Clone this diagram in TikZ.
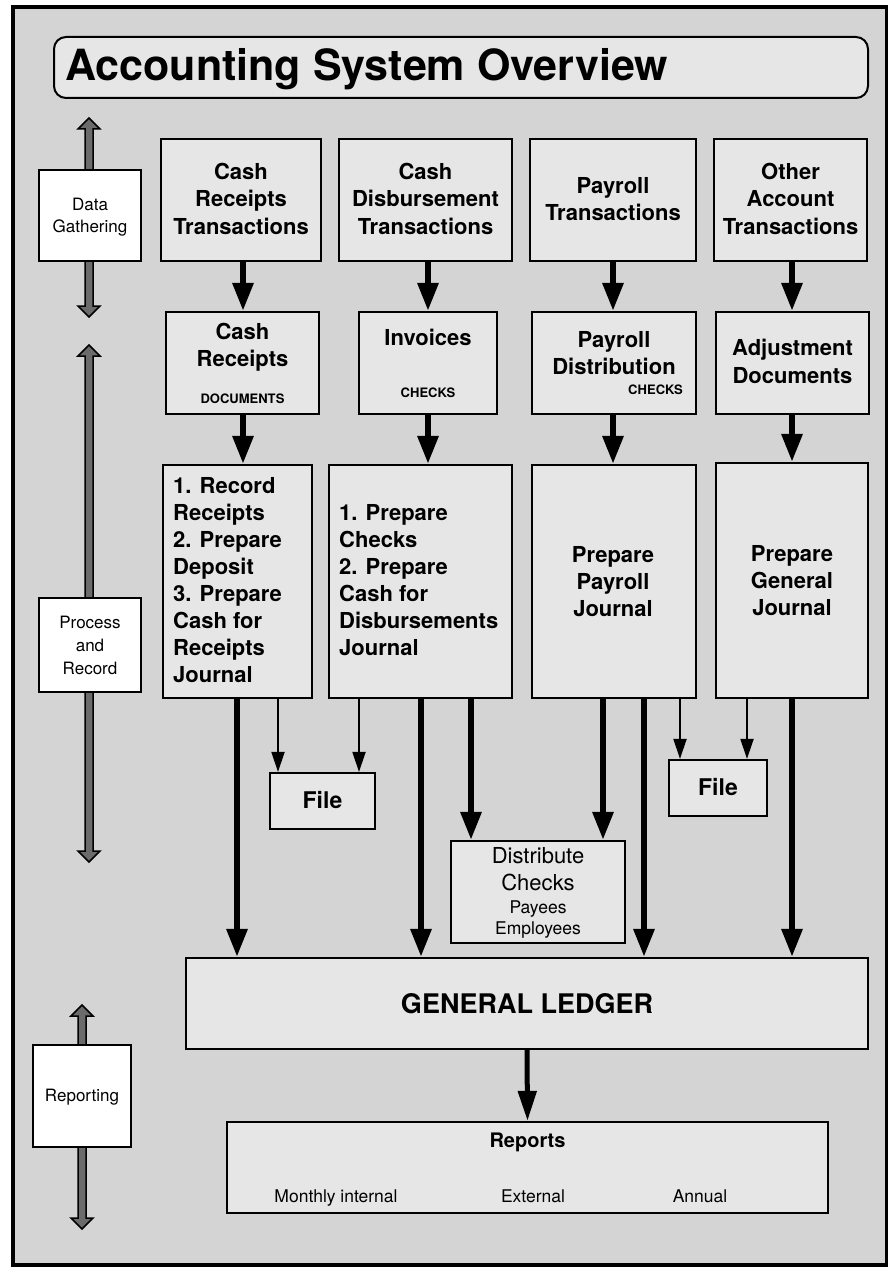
\documentclass[tikz,border=0pt]{standalone}
\usepackage{fontspec}
\setmainfont{TeX Gyre Heros}
\usetikzlibrary{arrows.meta}

\definecolor{sheet}{HTML}{D4D4D4}
\definecolor{panel}{HTML}{E6E6E6}
\definecolor{railgray}{HTML}{6B6B6B}

\newcommand{\setfs}[1]{\fontsize{#1}{#1}\selectfont}
% double-headed grey rail: x, top tip, bottom tip
\newcommand{\railarrow}[3]{%
  \draw[rail] (#1,#2) -- ({#1+11},{#2+11}) -- ({#1+4},{#2+11}) -- ({#1+4},{#3-11})
    -- ({#1+11},{#3-11}) -- (#1,#3) -- ({#1-11},{#3-11}) -- ({#1-4},{#3-11})
    -- ({#1-4},{#2+11}) -- ({#1-11},{#2+11}) -- cycle;}

\begin{document}
\begin{tikzpicture}[x=1pt,y=-1pt,
  box/.style={draw, line width=2.2pt, fill=panel, inner sep=0pt},
  stagebox/.style={draw, line width=1.8pt, fill=white, inner sep=0pt},
  hb/.style={inner sep=0pt, anchor=base, font=\setfs{22}\bfseries},
  hbl/.style={inner sep=0pt, anchor=base west, font=\setfs{22}\bfseries},
  caps/.style={inner sep=0pt, anchor=base, font=\setfs{13}\bfseries},
  lbl/.style={inner sep=0pt, anchor=base, font=\setfs{17}},
  thickflow/.style={line width=6pt, -{Triangle[width=20pt,length=28pt]}},
  thinflow/.style={line width=2pt, -{Triangle[width=13pt,length=20pt]}},
  rail/.style={draw=black, line width=1.5pt, fill=railgray},
]
\useasboundingbox (0,0) rectangle (888,1268);

% sheet and frame
\draw[line width=4pt, fill=sheet] (13,7) rectangle (887,1265);

% title
\node[draw, line width=2pt, rounded corners=12pt, fill=panel, inner sep=0pt,
      minimum width=814, minimum height=61] (title) at (461,67.5) {};
\node[inner sep=0pt, anchor=base west, font=\setfs{43}\bfseries] (titletext)
      at (65,81) {Accounting System Overview};

% stage rails and labels
\railarrow{89}{118}{317}
\railarrow{89}{345}{862}
\railarrow{82}{1005}{1229}
\node[stagebox, minimum width=102, minimum height=91] (sg1) at (90,215.5) {};
\node[lbl] (sg1a) at (90,210) {Data};
\node[lbl] (sg1b) at (90,232) {Gathering};
\node[stagebox, minimum width=102, minimum height=94] (sg2) at (90,645) {};
\node[lbl] (sg2a) at (90,628) {Process};
\node[lbl] (sg2b) at (90,651) {and};
\node[lbl] (sg2c) at (90,674) {Record};
\node[stagebox, minimum width=98, minimum height=102] (sg3) at (82,1096) {};
\node[lbl] (sg3a) at (82,1101) {Reporting};

% transactions
\node[box, minimum width=160, minimum height=122] (t1) at (241,200) {};
\node[box, minimum width=173, minimum height=122] (t2) at (425.5,200) {};
\node[box, minimum width=166, minimum height=122] (t3) at (613,200) {};
\node[box, minimum width=153, minimum height=122] (t4) at (790.5,200) {};
\node[hb] (t1a) at (241,180) {Cash};
\node[hb] (t1b) at (241,207) {Receipts};
\node[hb] (t1c) at (241,234) {Transactions};
\node[hb] (t2a) at (425.5,180) {Cash};
\node[hb] (t2b) at (425.5,207) {Disbursement};
\node[hb] (t2c) at (425.5,234) {Transactions};
\node[hb] (t3a) at (613,193.5) {Payroll};
\node[hb] (t3b) at (613,220.5) {Transactions};
\node[hb] (t4a) at (790.5,180) {Other};
\node[hb] (t4b) at (790.5,207) {Account};
\node[hb] (t4c) at (790.5,234) {Transactions};

% source documents
\node[box, minimum width=153, minimum height=102] (d1) at (242.5,363) {};
\node[box, minimum width=138, minimum height=102] (d2) at (428,363) {};
\node[box, minimum width=164, minimum height=102] (d3) at (614,363) {};
\node[box, minimum width=153, minimum height=102] (d4) at (792.5,363) {};
\node[hb] (d1a) at (242.5,339) {Cash};
\node[hb] (d1b) at (242.5,366) {Receipts};
\node[caps] (d1c) at (242.5,403) {DOCUMENTS};
\node[hb] (d2a) at (428,345) {Invoices};
\node[caps] (d2b) at (428,397) {CHECKS};
\node[hb] (d3a) at (614,347) {Payroll};
\node[hb] (d3b) at (614,374) {Distribution};
\node[caps, anchor=base east] (d3c) at (683,394) {CHECKS};
\node[hb] (d4a) at (792.5,355) {Adjustment};
\node[hb] (d4b) at (792.5,383) {Documents};

% journals
\node[box, minimum width=149, minimum height=233] (p1) at (237.5,581.5) {};
\node[box, minimum width=183, minimum height=233] (p2) at (420.5,581.5) {};
\node[box, minimum width=164, minimum height=233] (p3) at (614,581.5) {};
\node[box, minimum width=152, minimum height=235] (p4) at (792,580.5) {};
\node[hbl] (p1a) at (173,493) {1. Record};
\node[hbl] (p1b) at (173,520) {Receipts};
\node[hbl] (p1c) at (173,547) {2. Prepare};
\node[hbl] (p1d) at (173,574) {Deposit};
\node[hbl] (p1e) at (173,601) {3. Prepare};
\node[hbl] (p1f) at (173,628) {Cash for};
\node[hbl] (p1g) at (173,655) {Receipts};
\node[hbl] (p1h) at (173,682) {Journal};
\node[hbl] (p2a) at (339,520) {1. Prepare};
\node[hbl] (p2b) at (339,547) {Checks};
\node[hbl] (p2c) at (339,574) {2. Prepare};
\node[hbl] (p2d) at (339,601) {Cash for};
\node[hbl] (p2e) at (339,628) {Disbursements};
\node[hbl] (p2f) at (339,655) {Journal};
\node[hb] (p3a) at (613,562) {Prepare};
\node[hb] (p3b) at (613,589) {Payroll};
\node[hb] (p3c) at (613,616) {Journal};
\node[hb] (p4a) at (792,561) {Prepare};
\node[hb] (p4b) at (792,588) {General};
\node[hb] (p4c) at (792,615) {Journal};

% files and check distribution
\node[box, minimum width=105, minimum height=56] (f1) at (322.5,801) {};
\node[hb, font=\setfs{23}\bfseries] (f1a) at (322.5,808) {File};
\node[box, minimum width=98, minimum height=56] (f2) at (718,788) {};
\node[hb, font=\setfs{23}\bfseries] (f2a) at (718,795) {File};
\node[box, minimum width=174, minimum height=102] (dc) at (538,892) {};
\node[inner sep=0pt, anchor=base, font=\setfs{22}] (dca) at (538,863) {Distribute};
\node[inner sep=0pt, anchor=base, font=\setfs{22}] (dcb) at (538,890) {Checks};
\node[inner sep=0pt, anchor=base, font=\setfs{17.5}] (dcc) at (538,913) {Payees};
\node[inner sep=0pt, anchor=base, font=\setfs{17.5}] (dcd) at (538,934) {Employees};

% ledger and reports
\node[box, minimum width=682, minimum height=91] (gl) at (527,1003.5) {};
\node[inner sep=0pt, anchor=base, font=\setfs{27}\bfseries] (gla) at (527,1013) {GENERAL LEDGER};
\node[box, minimum width=601, minimum height=91] (rep) at (527.5,1167.5) {};
\node[inner sep=0pt, anchor=base, font=\setfs{20}\bfseries] (repa) at (527.5,1147) {Reports};
\node[inner sep=0pt, anchor=base, font=\setfs{17.5}] (repb) at (336,1202) {Monthly internal};
\node[inner sep=0pt, anchor=base, font=\setfs{17.5}] (repc) at (533,1202) {External};
\node[inner sep=0pt, anchor=base, font=\setfs{17.5}] (repd) at (700,1202) {Annual};

% transactions -> documents -> journals
\draw[thickflow] (t1.south -| 243,0) -- (d1.north -| 243,0);
\draw[thickflow] (t2.south -| 428,0) -- (d2.north -| 428,0);
\draw[thickflow] (t3.south -| 613,0) -- (d3.north -| 613,0);
\draw[thickflow] (t4.south -| 792,0) -- (d4.north -| 792,0);
\draw[thickflow] (d1.south -| 243,0) -- (p1.north -| 243,0);
\draw[thickflow] (d2.south -| 428,0) -- (p2.north -| 428,0);
\draw[thickflow] (d3.south -| 613,0) -- (p3.north -| 613,0);
\draw[thickflow] (d4.south -| 792,0) -- (p4.north -| 792,0);

% journals -> files
\draw[thinflow] (p1.south -| 278,0) -- (f1.north -| 278,0);
\draw[thinflow] (p2.south -| 359,0) -- (f1.north -| 359,0);
\draw[thinflow] (p3.south -| 680,0) -- (f2.north -| 680,0);
\draw[thinflow] (p4.south -| 747,0) -- (f2.north -| 747,0);

% journals -> check distribution
\draw[thickflow] (p2.south -| 471,0) -- (dc.north -| 471,0);
\draw[thickflow] (p3.south -| 603,0) -- (dc.north -| 603,0);

% journals -> ledger
\draw[thickflow] (p1.south -| 237,0) -- (gl.north -| 237,0);
\draw[thickflow] (p2.south -| 421,0) -- (gl.north -| 421,0);
\draw[thickflow] (p3.south -| 644,0) -- (gl.north -| 644,0);
\draw[thickflow] (p4.south -| 792,0) -- (gl.north -| 792,0);

% ledger -> reports
\draw[line width=5pt, -{Triangle[width=18pt,length=30pt]}] (gl.south) -- (rep.north);
\end{tikzpicture}
\end{document}
